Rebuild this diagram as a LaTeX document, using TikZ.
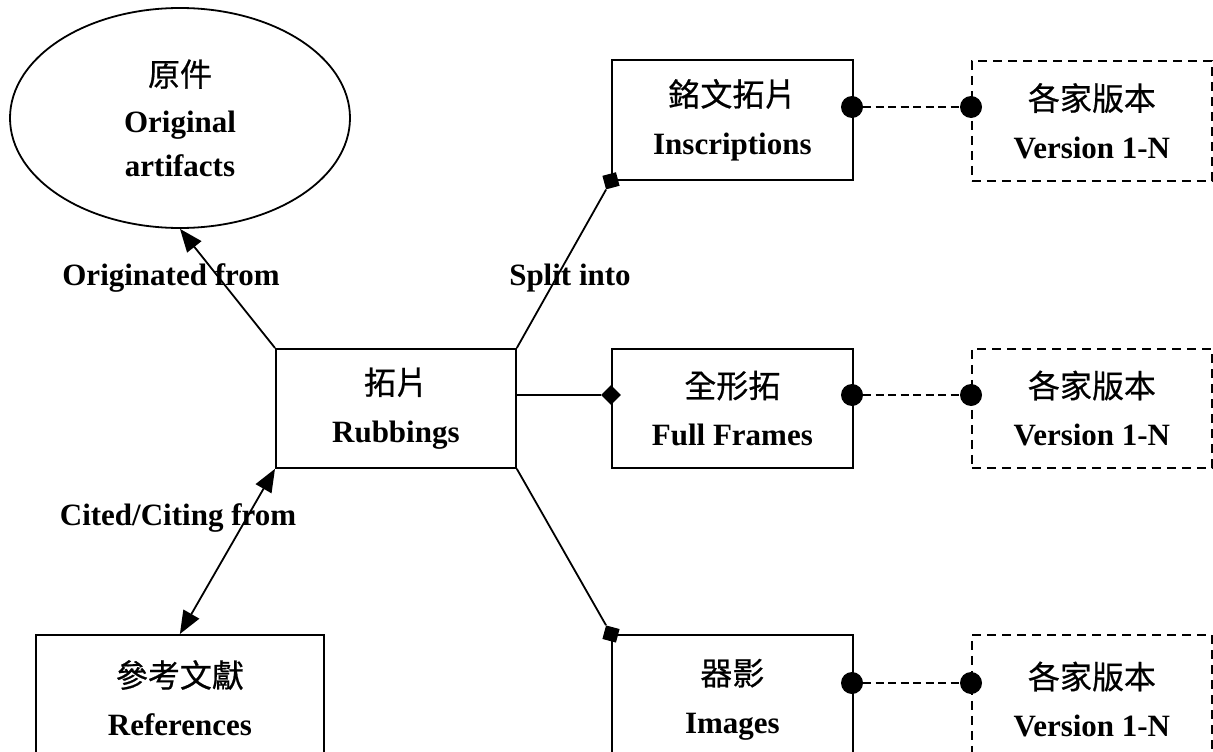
\documentclass[tikz,border=0pt]{standalone}
\usepackage{fontspec}
\setmainfont{Liberation Serif}
\newfontfamily\cjk[FakeBold=0.6]{Noto Sans CJK TC}
\usetikzlibrary{arrows.meta,shapes.geometric}
\newcommand{\zh}[1]{{\cjk\fontsize{32}{48}\selectfont #1}}
\tikzset{
  lw/.style={line width=1.8pt},
  txt/.style={align=center, inner sep=0pt, font=\fontsize{31}{48}\selectfont},
  box/.style={lw, draw, txt, anchor=north west, minimum width=241pt, minimum height=120pt},
  dbox/.style={box, dash pattern=on 9pt off 6pt},
  oval/.style={lw, draw, ellipse, txt, minimum width=340pt, minimum height=220pt},
  sqmark/.style={fill=black, draw=none, minimum size=14pt, inner sep=0pt},
  dotmark/.style={circle, fill=black, draw=none, minimum size=22pt, inner sep=0pt},
  conn/.style={lw},
  dconn/.style={lw, dash pattern=on 8pt off 4.5pt},
  tip/.style={-{Triangle[length=23pt,width=18pt]}},
  ttip/.style={{Triangle[length=23pt,width=18pt]}-{Triangle[length=23pt,width=18pt]}},
  lab/.style={inner sep=0pt, font=\fontsize{31}{36}\selectfont\bfseries},
}
\begin{document}
\begin{tikzpicture}[x=1pt,y=-1pt]
\useasboundingbox (0,0) rectangle (1213,752);
% nodes
\node[oval] (orig) at (180,118) {\zh{原件}\\[-2pt]\textbf{Original}\\[-4pt]\textbf{artifacts}};
\node[box, minimum width=240pt, minimum height=119pt] (rub) at (275,348) {\zh{拓片}\\\textbf{Rubbings}};
\node[box] (ins) at (611,59) {\zh{銘文拓片}\\\textbf{Inscriptions}};
\node[dbox, minimum width=240pt] (v1) at (971,60) {\zh{各家版本}\\\textbf{Version 1-N}};
\node[box, minimum height=119pt] (ff) at (611,348) {\zh{全形拓}\\\textbf{Full Frames}};
\node[dbox, minimum width=240pt, minimum height=119pt] (v2) at (971,348) {\zh{各家版本}\\\textbf{Version 1-N}};
\node[box, minimum height=129pt] (img) at (611,634) {\zh{器影}\\\textbf{Images}};
\node[dbox, minimum width=240pt, minimum height=129pt] (v3) at (971,634) {\zh{各家版本}\\\textbf{Version 1-N}};
\node[box, minimum width=288pt, minimum height=126pt] (ref) at (35,634) {\zh{參考文獻}\\\textbf{References}};
% markers
\node[sqmark, rotate=15] (d1) at (ins.south west) {};
\node[sqmark, rotate=45] (d2) at (611,395) {};
\node[sqmark, rotate=-15] (d3) at (img.north west) {};
\node[dotmark] (c1a) at (852,107) {};
\node[dotmark] (c1b) at (971,107) {};
\node[dotmark] (c2a) at (852,395) {};
\node[dotmark] (c2b) at (971,395) {};
\node[dotmark] (c3a) at (852,683) {};
\node[dotmark] (c3b) at (971,683) {};
% labels
\node[lab] (l1) at (171,278) {Originated from};
\node[lab] (l2) at (570,278) {Split into};
\node[lab] (l3) at (178,518) {Cited/Citing from};
% connectors
\draw[conn, tip] (rub.north west) -- (orig.south);
\draw[conn, ttip] (rub.south west) -- (ref.north);
\draw[conn] (rub.north east) -- (d1);
\draw[conn] (d2 -| rub.east) -- (d2);
\draw[conn] (rub.south east) -- (d3);
\draw[dconn] (c1a) -- (c1b);
\draw[dconn] (c2a) -- (c2b);
\draw[dconn] (c3a) -- (c3b);
\end{tikzpicture}
\end{document}
